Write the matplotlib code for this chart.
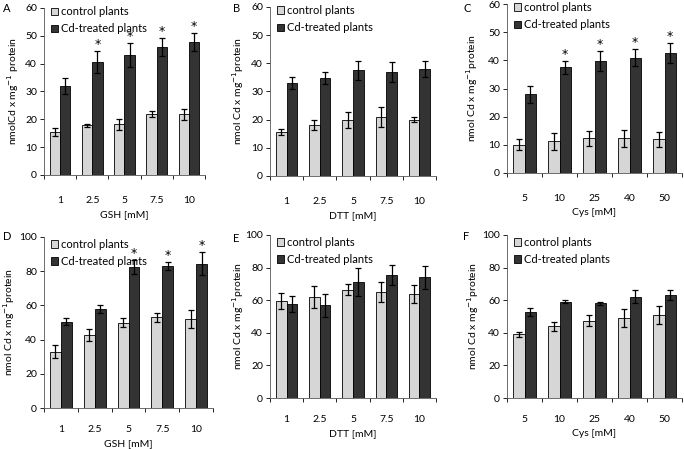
import numpy as np
import matplotlib.pyplot as plt
from matplotlib.patches import Patch

plt.rcParams['font.family'] = ['Lato', 'DejaVu Sans']

gsh = ['1', '2.5', '5', '7.5', '10']
dtt = ['1', '2.5', '5', '7.5', '10']
cys = ['5', '10', '25', '40', '50']

a_ctrl = [15.5, 17.8, 18.2, 22.0, 21.8]
a_ctrl_err = [1.5, 0.5, 2.0, 1.0, 2.0]
a_cd = [32.0, 40.5, 43.0, 46.0, 47.8]
a_cd_err = [3.0, 4.0, 4.3, 3.2, 3.2]
a_star = [False, True, True, True, True]

b_ctrl = [15.7, 18.0, 20.0, 21.0, 20.0]
b_ctrl_err = [1.0, 1.8, 2.8, 3.5, 1.0]
b_cd = [33.0, 34.8, 37.5, 37.0, 38.0]
b_cd_err = [2.2, 2.3, 3.5, 3.5, 3.0]
b_star = [False] * 5

c_ctrl = [10.0, 11.2, 12.3, 12.3, 12.0]
c_ctrl_err = [2.0, 3.0, 2.6, 3.0, 2.7]
c_cd = [28.0, 37.5, 39.8, 41.0, 42.5]
c_cd_err = [3.0, 2.3, 3.6, 3.0, 3.5]
c_star = [False, True, True, True, True]

d_ctrl = [33.0, 42.5, 50.0, 53.0, 52.0]
d_ctrl_err = [4.0, 3.5, 2.8, 2.5, 5.5]
d_cd = [50.5, 58.0, 82.5, 83.0, 84.5]
d_cd_err = [2.0, 2.5, 4.0, 2.5, 6.5]
d_star = [False, False, True, True, True]

e_ctrl = [59.5, 62.0, 66.5, 65.0, 64.0]
e_ctrl_err = [5.0, 6.5, 3.5, 6.0, 5.5]
e_cd = [57.5, 57.0, 71.0, 75.5, 74.0]
e_cd_err = [5.0, 7.0, 8.5, 6.0, 7.0]
e_star = [False] * 5

f_ctrl = [39.0, 44.0, 47.5, 49.0, 51.0]
f_ctrl_err = [1.5, 2.8, 3.5, 5.5, 5.5]
f_cd = [53.0, 59.0, 58.0, 62.0, 63.0]
f_cd_err = [2.5, 1.0, 1.0, 4.0, 3.0]
f_star = [False] * 5

W, H = 684, 449
fig = plt.figure(figsize=(6.84, 4.49), dpi=100)


def px_axes(left, right, top, bottom):
    return fig.add_axes([left / W, 1 - bottom / H, (right - left) / W, (bottom - top) / H])


# letter, axes box (l, r, t, b), letter pos, ylabel x, categories, labels, y range, data
panels = [
    ('A', (44, 205, 8, 175), (3, 8), 21, gsh, 'GSH [mM]', 'nmolCd x mg$^{-1}$ protein', 60, 10,
     a_ctrl, a_ctrl_err, a_cd, a_cd_err, a_star),
    ('B', (270, 436, 7, 176), (233, 8), 246, dtt, 'DTT [mM]', 'nmol Cd x mg$^{-1}$protein', 60, 10,
     b_ctrl, b_ctrl_err, b_cd, b_cd_err, b_star),
    ('C', (507, 682, 4, 173), (463, 8), 480, cys, 'Cys [mM]', 'nmol Cd x mg$^{-1}$protein', 60, 10,
     c_ctrl, c_ctrl_err, c_cd, c_cd_err, c_star),
    ('D', (44, 213, 237, 408), (3, 237), 17, gsh, 'GSH [mM]', 'nmol Cd x mg$^{-1}$protein', 100, 20,
     d_ctrl, d_ctrl_err, d_cd, d_cd_err, d_star),
    ('E', (270, 436, 235, 398), (233, 238), 246, dtt, 'DTT [mM]', 'nmol Cd x mg$^{-1}$protein', 100, 20,
     e_ctrl, e_ctrl_err, e_cd, e_cd_err, e_star),
    ('F', (507, 682, 235, 398), (463, 237), 481, cys, 'Cys [mM]', 'nmol Cd x mg$^{-1}$protein', 100, 20,
     f_ctrl, f_ctrl_err, f_cd, f_cd_err, f_star),
]

light = '#d6d6d6'
dark = '#333333'
bw = 0.32
fs = 7.5

for (letter, box, lpos, ylx, cats, xlab, ylab, ymax, ystep,
     ctrl, ctrl_err, cd, cd_err, star) in panels:
    ax = px_axes(*box)
    l, r, t, b = box
    x = np.arange(len(cats))
    ekw = dict(ecolor='black', elinewidth=0.9, capsize=2.5, capthick=0.9)
    ax.bar(x - bw / 2, ctrl, bw, yerr=ctrl_err, color=light, edgecolor='black',
           linewidth=0.6, error_kw=ekw)
    ax.bar(x + bw / 2, cd, bw, yerr=cd_err, color=dark, edgecolor='black',
           linewidth=0.6, error_kw=ekw)
    for i in range(len(cats)):
        if star[i]:
            ax.text(x[i] + bw / 2, cd[i] + cd_err[i], '*', family='DejaVu Sans',
                    ha='center', va='bottom', fontsize=9)

    ax.set_xlim(-0.5, len(cats) - 0.5)
    ax.set_ylim(0, ymax)
    ax.set_yticks(np.arange(0, ymax + 1, ystep))
    ax.set_xticks(x)
    ax.set_xticklabels(cats, fontsize=fs)
    ax.set_xticks(np.arange(-0.5, len(cats)), minor=True)
    pad = 15 if ymax == 60 else 12
    ax.tick_params(axis='x', which='major', length=0, pad=pad)
    ax.tick_params(axis='x', which='minor', length=3, width=0.6, direction='out')
    ax.tick_params(axis='y', labelsize=fs, length=3, width=0.6, pad=2)
    for s in ['top', 'right']:
        ax.spines[s].set_visible(False)
    for s in ['left', 'bottom']:
        ax.spines[s].set_linewidth(0.6)
        ax.spines[s].set_color('#555555')

    ax.set_xlabel(xlab, fontsize=fs, labelpad=4)
    ax.set_ylabel(ylab, fontsize=fs)
    ax.yaxis.set_label_coords((ylx - l) / (r - l), 0.5)

    handles = [Patch(facecolor=light, edgecolor='black', linewidth=0.6),
               Patch(facecolor=dark, edgecolor='black', linewidth=0.6)]
    ax.legend(handles, ['control plants', 'Cd-treated plants'], loc='upper left',
              bbox_to_anchor=(0.0, 1.05 if ymax == 60 else 1.03), frameon=False,
              fontsize=8, handlelength=0.7, handleheight=0.7, handletextpad=0.2,
              labelspacing=0.55, borderaxespad=0.2)

    fig.text(lpos[0] / W, 1 - lpos[1] / H, letter, fontsize=8, va='center', ha='left')

plt.savefig('out.png', dpi=100)
